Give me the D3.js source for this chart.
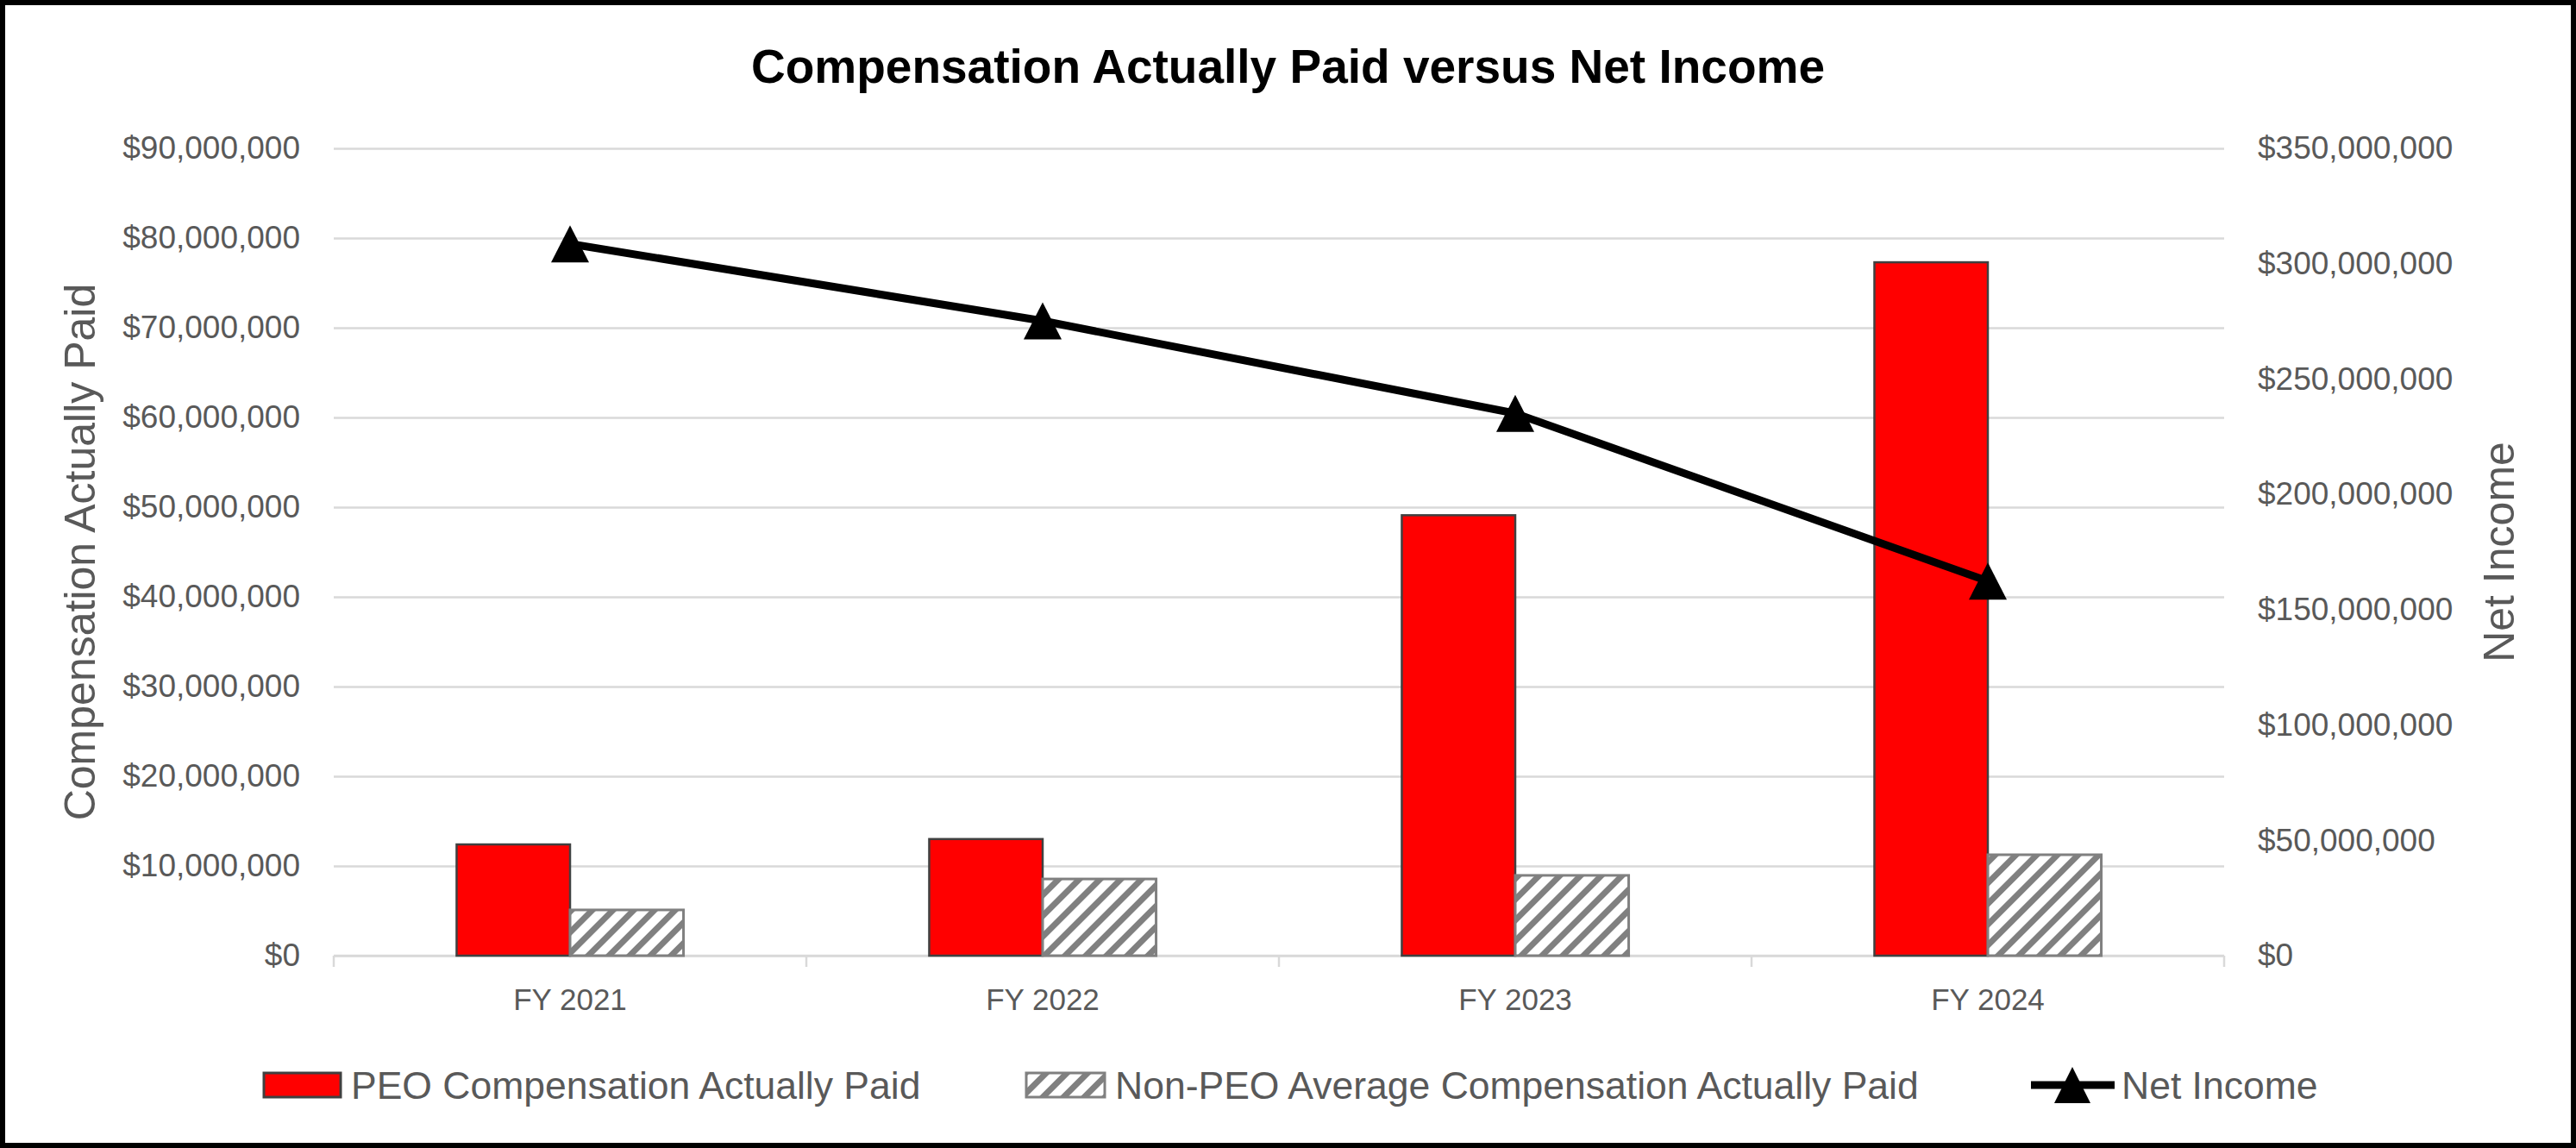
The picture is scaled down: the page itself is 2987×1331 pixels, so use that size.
<!DOCTYPE html>
<html lang="en">
<head>
    <meta charset="UTF-8">
    <title>Compensation Actually Paid versus Net Income</title>
    <style>
        body {
            margin: 0;
            padding: 0;
            background: white;
            font-family: "Liberation Sans", Arial, sans-serif;
        }
        svg {
            display: block;
        }
    </style>
    <script src="https://d3js.org/d3.v7.min.js"></script>
</head>
<body>

<div id="chart"></div>

<script>
    // Chart data
    const categories = ["FY 2021", "FY 2022", "FY 2023", "FY 2024"];
    const peoCap = [12400000, 13000000, 49100000, 77300000];
    const nonPeoCap = [5100000, 8550000, 8950000, 11250000];
    const netIncome = [308600000, 275200000, 235100000, 162400000];

    const leftTicks = [0, 10000000, 20000000, 30000000, 40000000, 50000000, 60000000, 70000000, 80000000, 90000000];
    const rightTicks = [0, 50000000, 100000000, 150000000, 200000000, 250000000, 300000000, 350000000];

    const seriesNames = ["PEO Compensation Actually Paid", "Non-PEO Average Compensation Actually Paid", "Net Income"];

    // Overall size and plot area
    const W = 2987, H = 1331;
    const margin = { top: 172, right: W - 2579, bottom: H - 1108, left: 387 };
    const width = W - margin.left - margin.right;
    const height = H - margin.top - margin.bottom;

    const grey = "#595959";
    const gridColor = "#d9d9d9";
    const font = "Liberation Sans, Arial, sans-serif";

    const svg = d3.select("#chart").append("svg")
        .attr("width", W)
        .attr("height", H);

    // Hatch pattern for the Non-PEO bars
    const defs = svg.append("defs");
    defs.append("pattern")
        .attr("id", "hatch")
        .attr("patternUnits", "userSpaceOnUse")
        .attr("width", 17)
        .attr("height", 17)
        .attr("patternTransform", "rotate(45)")
        .call(p => {
            p.append("rect").attr("width", 17).attr("height", 17).attr("fill", "white");
            p.append("rect").attr("width", 7).attr("height", 17).attr("fill", "#808080");
        });

    // White background with black frame
    svg.append("rect")
        .attr("x", 3).attr("y", 3)
        .attr("width", W - 6).attr("height", H - 6)
        .attr("fill", "white")
        .attr("stroke", "black")
        .attr("stroke-width", 6);

    const g = svg.append("g")
        .attr("transform", `translate(${margin.left},${margin.top})`);

    // Scales
    const x = d3.scaleBand()
        .domain(categories)
        .range([0, width]);

    const xSub = d3.scaleBand()
        .domain(["peo", "nonPeo"])
        .range([0, x.bandwidth()])
        .paddingInner(0)
        .paddingOuter(1.083);

    const yLeft = d3.scaleLinear()
        .domain([0, 90000000])
        .range([height, 0]);

    const yRight = d3.scaleLinear()
        .domain([0, 350000000])
        .range([height, 0]);

    const money = d3.format("$,");

    // Gridlines
    g.append("g")
        .call(d3.axisLeft(yLeft).tickValues(leftTicks).tickSize(-width).tickFormat(""))
        .call(a => a.select(".domain").remove())
        .selectAll("line")
        .attr("stroke", gridColor)
        .attr("stroke-width", 2.5);

    // Left axis labels
    g.append("g")
        .call(d3.axisLeft(yLeft).tickValues(leftTicks).tickSize(0).tickPadding(39).tickFormat(money))
        .call(a => a.select(".domain").remove())
        .selectAll("text")
        .attr("fill", grey)
        .style("font-size", "37px")
        .style("font-family", font);

    // Right axis labels
    g.append("g")
        .attr("transform", `translate(${width},0)`)
        .call(d3.axisRight(yRight).tickValues(rightTicks).tickSize(0).tickPadding(39).tickFormat(money))
        .call(a => a.select(".domain").remove())
        .selectAll("text")
        .attr("fill", grey)
        .style("font-size", "37px")
        .style("font-family", font);

    // Bottom axis: category labels
    g.append("g")
        .attr("transform", `translate(0,${height})`)
        .call(d3.axisBottom(x).tickSize(0).tickPadding(38))
        .call(a => a.select(".domain").remove())
        .selectAll("text")
        .attr("fill", grey)
        .style("font-size", "35px")
        .style("font-family", font);

    // Bottom axis line and tick marks at category boundaries
    g.append("line")
        .attr("x1", 0).attr("x2", width)
        .attr("y1", height).attr("y2", height)
        .attr("stroke", gridColor)
        .attr("stroke-width", 2.5);

    const bounds = categories.map(c => x(c)).concat([width]);
    g.selectAll(".xtick")
        .data(bounds)
        .enter().append("line")
        .attr("class", "xtick")
        .attr("x1", d => d).attr("x2", d => d)
        .attr("y1", height).attr("y2", height + 13)
        .attr("stroke", gridColor)
        .attr("stroke-width", 2.5);

    // PEO bars
    g.selectAll(".peo")
        .data(categories)
        .enter().append("rect")
        .attr("class", "peo")
        .attr("x", c => x(c) + xSub("peo"))
        .attr("y", (c, i) => yLeft(peoCap[i]))
        .attr("width", xSub.bandwidth())
        .attr("height", (c, i) => height - yLeft(peoCap[i]))
        .attr("fill", "#ff0000")
        .attr("stroke", "#404040")
        .attr("stroke-width", 2.5);

    // Non-PEO bars
    g.selectAll(".nonpeo")
        .data(categories)
        .enter().append("rect")
        .attr("class", "nonpeo")
        .attr("x", c => x(c) + xSub("nonPeo"))
        .attr("y", (c, i) => yLeft(nonPeoCap[i]))
        .attr("width", xSub.bandwidth())
        .attr("height", (c, i) => height - yLeft(nonPeoCap[i]))
        .attr("fill", "url(#hatch)")
        .attr("stroke", "#808080")
        .attr("stroke-width", 3);

    // Net income line
    const line = d3.line()
        .x((v, i) => x(categories[i]) + x.bandwidth() / 2)
        .y(v => yRight(v));

    g.append("path")
        .datum(netIncome)
        .attr("fill", "none")
        .attr("stroke", "black")
        .attr("stroke-width", 9)
        .attr("stroke-linejoin", "round")
        .attr("d", line);

    // Triangle marker centred on its box
    function triangle(w, h) {
        const p = d3.path();
        p.moveTo(0, -h / 2);
        p.lineTo(w / 2, h / 2);
        p.lineTo(-w / 2, h / 2);
        p.closePath();
        return p.toString();
    }

    g.selectAll(".marker")
        .data(netIncome)
        .enter().append("path")
        .attr("class", "marker")
        .attr("d", triangle(44, 43))
        .attr("transform", (v, i) => `translate(${x(categories[i]) + x.bandwidth() / 2},${yRight(v)})`)
        .attr("fill", "black");

    // Title
    svg.append("text")
        .attr("x", W / 2)
        .attr("y", 96)
        .attr("text-anchor", "middle")
        .style("font-size", "55px")
        .style("font-weight", "bold")
        .attr("fill", "black")
        .text("Compensation Actually Paid versus Net Income");

    // Axis titles
    svg.append("text")
        .attr("transform", `translate(110,${margin.top + height / 2}) rotate(-90)`)
        .attr("text-anchor", "middle")
        .style("font-size", "50px")
        .attr("fill", grey)
        .text("Compensation Actually Paid");

    svg.append("text")
        .attr("transform", `translate(2915,${margin.top + height / 2}) rotate(-90)`)
        .attr("text-anchor", "middle")
        .style("font-size", "50px")
        .attr("fill", grey)
        .text("Net Income");

    // Legend
    const legendY = 1258;
    const legend = svg.append("g");

    legend.append("rect")
        .attr("x", 306).attr("y", legendY - 14)
        .attr("width", 89).attr("height", 28)
        .attr("fill", "#ff0000")
        .attr("stroke", "#404040")
        .attr("stroke-width", 3);

    legend.append("rect")
        .attr("x", 1190).attr("y", legendY - 14)
        .attr("width", 91).attr("height", 28)
        .attr("fill", "url(#hatch)")
        .attr("stroke", "#808080")
        .attr("stroke-width", 3);

    legend.append("line")
        .attr("x1", 2355).attr("x2", 2452)
        .attr("y1", legendY).attr("y2", legendY)
        .attr("stroke", "black")
        .attr("stroke-width", 9);

    legend.append("path")
        .attr("d", triangle(42, 42))
        .attr("transform", `translate(2403,${legendY})`)
        .attr("fill", "black");

    legend.selectAll(".ltext")
        .data(seriesNames)
        .enter().append("text")
        .attr("class", "ltext")
        .attr("x", (d, i) => [407, 1293, 2460][i])
        .attr("y", legendY)
        .attr("dy", "0.35em")
        .style("font-size", "44.5px")
        .attr("fill", grey)
        .text(d => d);
</script>

</body>
</html>
